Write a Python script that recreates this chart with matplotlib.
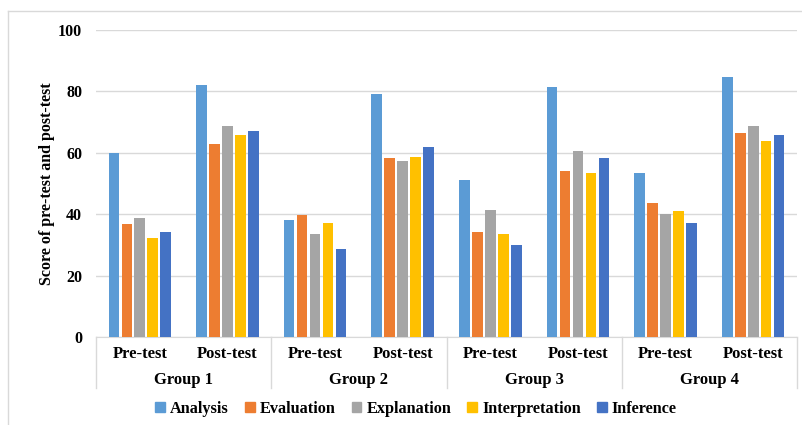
import matplotlib
matplotlib.use('Agg')
import matplotlib.pyplot as plt
import numpy as np
from matplotlib.lines import Line2D

# scores per skill, order: G1 pre, G1 post, G2 pre, G2 post, G3 pre, G3 post, G4 pre, G4 post
tests = ['Pre-test', 'Post-test'] * 4
groups = ['Group 1', 'Group 2', 'Group 3', 'Group 4']
skills = ['Analysis', 'Evaluation', 'Explanation', 'Interpretation', 'Inference']
analysis = [60.0, 82.2, 38.2, 79.2, 51.1, 81.4, 53.4, 84.8]
evaluation = [36.8, 63.0, 39.8, 58.2, 34.1, 54.1, 43.6, 66.5]
explanation = [38.8, 68.6, 33.4, 57.4, 41.5, 60.7, 40.2, 68.6]
interpretation = [32.2, 65.9, 37.0, 58.7, 33.6, 53.4, 41.0, 63.8]
inference = [34.1, 67.1, 28.6, 61.8, 30.1, 58.2, 37.0, 65.8]
colors = ['#5B9BD5', '#ED7D31', '#A5A5A5', '#FFC000', '#4472C4']

plt.rcParams['font.family'] = ['Liberation Serif', 'DejaVu Serif']
plt.rcParams['font.weight'] = 'bold'

fig = plt.figure(figsize=(8.03, 4.25), dpi=100)
ax = fig.add_axes([96 / 803, 1 - 337 / 425, 701 / 803, 307 / 425])

x = np.arange(len(tests))
w = 0.148
series = [analysis, evaluation, explanation, interpretation, inference]
for i, (vals, c) in enumerate(zip(series, colors)):
    ax.bar(x + (i - 2) * w, vals, width=w * 0.82, color=c, zorder=3)

ax.set_xlim(-0.5, len(tests) - 0.5)
ax.set_ylim(0, 100)
ax.set_yticks(range(0, 101, 20))
ax.tick_params(axis='y', length=0, pad=10, labelsize=11.5)
ax.grid(axis='y', color='#D9D9D9', linewidth=1, zorder=0)
for s in ['top', 'right', 'left']:
    ax.spines[s].set_visible(False)
ax.spines['bottom'].set_color('#D9D9D9')
ax.set_xticks([])
ax.set_ylabel('Score of pre-test and post-test', fontsize=11.5, fontweight='bold', labelpad=2)

# two-level category axis
trans = ax.get_xaxis_transform()
for xi, lbl in zip(x, tests):
    ax.text(xi, -0.055, lbl, transform=trans, ha='center', va='center', fontsize=12)
for gi, g in enumerate(groups):
    ax.text(2 * gi + 0.5, -0.14, g, transform=trans, ha='center', va='center', fontsize=12)
for b in np.arange(-0.5, len(tests), 2):
    ax.add_line(Line2D([b, b], [0, -0.165], transform=trans, color='#D9D9D9',
                       linewidth=1, clip_on=False))

handles = [plt.Rectangle((0, 0), 1, 1, color=c) for c in colors]
fig.legend(handles, skills, loc='center', bbox_to_anchor=(416 / 803, 1 - 409 / 425), ncol=5,
           frameon=False, fontsize=11.7, handlelength=0.6, handleheight=0.6,
           handletextpad=0.3, columnspacing=1.0)

# chart area border
fig.add_artist(Line2D([8 / 803, 8 / 803], [0, 1 - 11 / 425], color='#D9D9D9', linewidth=1))
fig.add_artist(Line2D([8 / 803, 1], [1 - 11 / 425, 1 - 11 / 425], color='#D9D9D9', linewidth=1))

fig.savefig('out.png', dpi=100)
